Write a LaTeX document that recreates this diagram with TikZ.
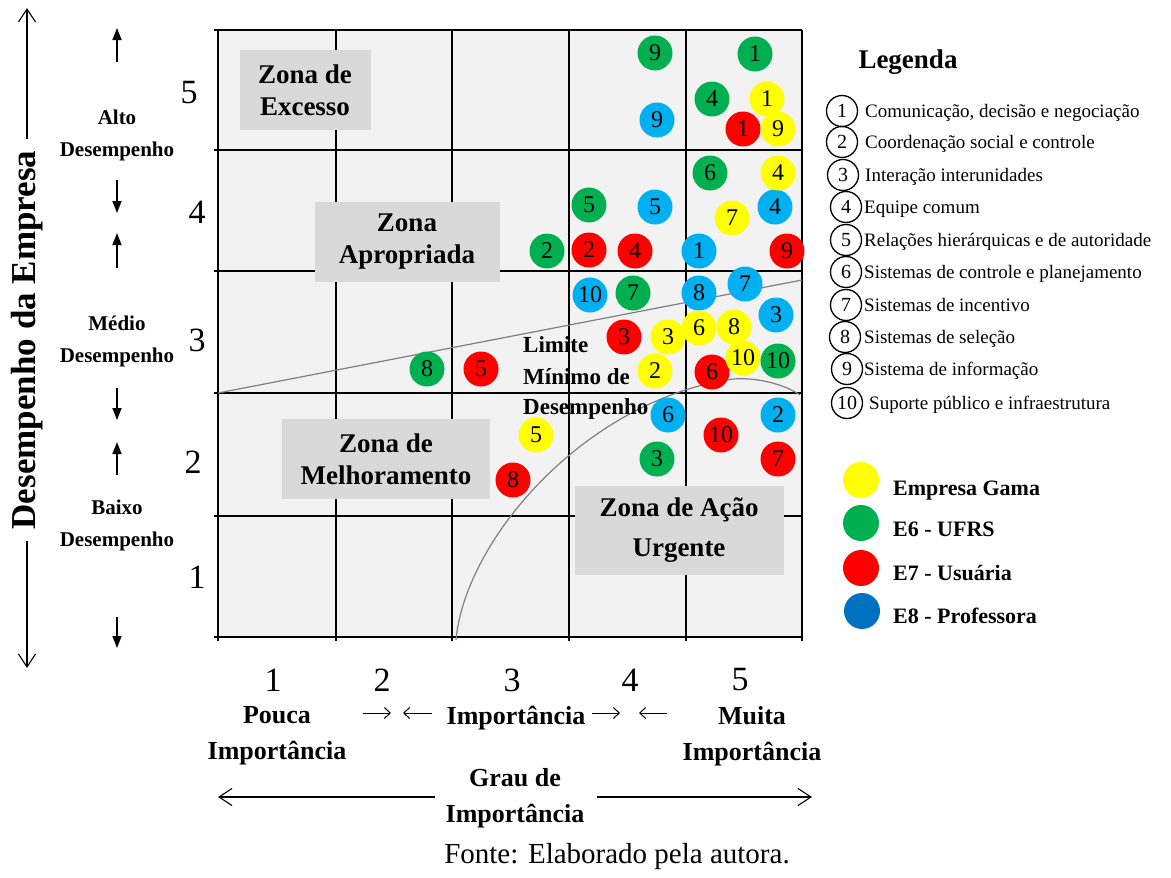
\documentclass[tikz,border=0pt]{standalone}
\usepackage{fontspec}
\setmainfont{Liberation Serif}
\usetikzlibrary{arrows.meta}
\definecolor{cY}{HTML}{FFFF00}
\definecolor{cG}{HTML}{00B050}
\definecolor{cR}{HTML}{FF0000}
\definecolor{cB}{HTML}{00B0F0}
\definecolor{cBL}{HTML}{0070C0}
\definecolor{gridbg}{HTML}{F2F2F2}
\definecolor{zgray}{HTML}{D9D9D9}
\definecolor{limgray}{HTML}{808080}
\begin{document}
\begin{tikzpicture}[x=1pt,y=-1pt,
  bub/.style={circle, inner sep=0pt, minimum size=35pt, font=\fontsize{24}{24}\selectfont},
  pY/.style={bub, fill=cY}, pG/.style={bub, fill=cG},
  pR/.style={bub, fill=cR}, pB/.style={bub, fill=cB},
  zone/.style={fill=zgray, inner sep=0pt, align=center, font=\bfseries\fontsize{27}{32}\selectfont},
  gridln/.style={line width=2pt, black},
  limln/.style={line width=1.2pt, limgray},
  axarrow/.style={line width=1.1pt, -{Straight Barb[length=13pt,width=17pt]}},
  smallarrow/.style={line width=1.6pt, -{Triangle[length=12pt,width=9pt]}},
  tinyarrow/.style={line width=1pt, -{Straight Barb[length=6pt,width=11pt]}},
  sidelbl/.style={align=center, font=\bfseries\fontsize{21}{32}\selectfont},
  bottomlbl/.style={align=center, font=\bfseries\fontsize{26}{36}\selectfont},
  axnum/.style={font=\fontsize{34}{34}\selectfont},
  legc/.style={circle, draw, line width=1.3pt, inner sep=0pt, minimum size=31pt, font=\fontsize{20}{20}\selectfont},
  legt/.style={anchor=base west, inner sep=0pt, font=\fontsize{19}{19}\selectfont},
  colc/.style={circle, inner sep=0pt, minimum size=36pt},
  colt/.style={anchor=base west, inner sep=0pt, font=\bfseries\fontsize{22}{22}\selectfont}
]
\useasboundingbox (0,0) rectangle (1171,878);

% grid background
\fill[gridbg] (218,30) rectangle (802,637);
\foreach \xx in {218,336,452,569,686,802} \draw[gridln] (\xx,30) -- (\xx,641);
\foreach \yy in {30,150,271,393,516,637} \draw[gridln] (214,\yy) -- (802,\yy);

% zone boxes
\node[zone, minimum width=131pt, minimum height=80pt] (zexc) at (305,90) {Zona de\\Excesso};
\node[zone, minimum width=185pt, minimum height=80pt] (zapr) at (407,242) {Zona\\Apropriada};
\node[zone, minimum width=208pt, minimum height=80pt] (zmel) at (386,459) {Zona de\\Melhoramento};
\node[zone, minimum width=209pt, minimum height=89pt, font=\bfseries\fontsize{27}{40}\selectfont] (zurg) at (679,530) {Zona de Ação\\Urgente};

% limit lines
\coordinate (la) at (218,393);
\coordinate (lb) at (802,280);
\draw[limln] (la) -- (lb);
\coordinate (ca) at (456,640);
\coordinate (cm) at (733,379);
\coordinate (cb) at (800,395);
\draw[limln] (ca) .. controls (465,540) and (585,400) .. (cm) .. controls (765,377) and (790,388) .. (cb);

% Limite text
\node[anchor=base west, inner sep=0pt, font=\bfseries\fontsize{23}{23}\selectfont] (lim1) at (523,352) {Limite};
\node[anchor=base west, inner sep=0pt, font=\bfseries\fontsize{23}{23}\selectfont] (lim2) at (523,384) {Mínimo de};
\node[anchor=base west, inner sep=0pt, font=\bfseries\fontsize{23}{23}\selectfont] (lim3) at (523,414) {Desempenho};

% red
\node[pR] (r1) at (743,129) {1};
\node[pR] (r2) at (589,250) {2};
\node[pR] (r4) at (635,251) {4};
\node[pR] (r9) at (787,251) {9};
\node[pR] (r3) at (624,337) {3};
\node[pR] (r5) at (481,369) {5};
\node[pR] (r6) at (712,372) {6};
\node[pR] (r10) at (721,435) {10};
\node[pR] (r7) at (778,459) {7};
\node[pR] (r8) at (513,480) {8};
% green
\node[pG] (g9) at (655,53) {9};
\node[pG] (g1) at (755,54) {1};
\node[pG] (g4) at (712,99) {4};
\node[pG] (g6) at (710,173) {6};
\node[pG] (g5) at (589,205) {5};
\node[pG] (g2) at (547,251) {2};
\node[pG] (g7) at (633,293) {7};
\node[pG] (g8) at (427,369) {8};
\node[pG] (g3) at (657,459) {3};
% blue
\node[pB] (b9) at (657,120) {9};
\node[pB] (b5) at (655,207) {5};
\node[pB] (b4) at (775,207) {4};
\node[pB] (b1) at (699,251) {1};
\node[pB] (b10) at (590,295) {10};
\node[pB] (b8) at (699,293) {8};
\node[pB] (b7) at (745,284) {7};
\node[pB] (b3) at (776,315) {3};
\node[pB] (b6) at (668,415) {6};
\node[pB] (b2) at (778,415) {2};
% yellow
\node[pY] (y1) at (767,99) {1};
\node[pY] (y9) at (778,129) {9};
\node[pY] (y4) at (778,173) {4};
\node[pY] (y7) at (732,218) {7};
\node[pY] (y3) at (668,337) {3};
\node[pY] (y6) at (699,328) {6};
\node[pY] (y8) at (734,327) {8};
\node[pY] (y10) at (743,358) {10};
\node[pY] (y2) at (655,371) {2};
\node[pY] (y5) at (536,435) {5};
\node[pG] (g10) at (778,361) {10};

% left axis
\node[rotate=90, inner sep=0pt, font=\bfseries\fontsize{35}{35}\selectfont] (ylab) at (27,340) {Desempenho da Empresa};
\coordinate (ytop) at (27,8);
\coordinate (ybot) at (27,668);
\draw[axarrow] (ylab.east) ++(0,-12) -- (ytop);
\draw[axarrow] (ylab.west) ++(0,12) -- (ybot);

% small arrows
\coordinate (s1a) at (117,62); \coordinate (s1b) at (117,28);
\coordinate (s2a) at (117,180); \coordinate (s2b) at (117,213);
\coordinate (s3a) at (117,268); \coordinate (s3b) at (117,233);
\coordinate (s4a) at (117,388); \coordinate (s4b) at (117,420);
\coordinate (s5a) at (117,475); \coordinate (s5b) at (117,442);
\coordinate (s6a) at (117,617); \coordinate (s6b) at (117,648);
\draw[smallarrow] (s1a) -- (s1b);
\draw[smallarrow] (s2a) -- (s2b);
\draw[smallarrow] (s3a) -- (s3b);
\draw[smallarrow] (s4a) -- (s4b);
\draw[smallarrow] (s5a) -- (s5b);
\draw[smallarrow] (s6a) -- (s6b);

\node[sidelbl] (alto) at (117,135) {Alto\\Desempenho};
\node[sidelbl] (medio) at (117,341) {Médio\\Desempenho};
\node[sidelbl] (baixo) at (117,525) {Baixo\\Desempenho};

\node[axnum] (yn5) at (189,93) {5};
\node[axnum] (yn4) at (197,212) {4};
\node[axnum] (yn3) at (197,340) {3};
\node[axnum] (yn2) at (193,462) {2};
\node[axnum] (yn1) at (197,577) {1};

% bottom axis
\node[axnum] (xn1) at (273,680) {1};
\node[axnum] (xn2) at (382,680) {2};
\node[axnum] (xn3) at (512,680) {3};
\node[axnum] (xn4) at (630,680) {4};
\node[axnum] (xn5) at (740,680) {5};

\node[bottomlbl] (pouca) at (277,736) {Pouca\\Importância};
\node[bottomlbl] (media) at (516,718) {Importância};
\node[bottomlbl] (muita) at (752,736) {Muita\\Importância};

\coordinate (t1a) at (363,713); \coordinate (t1b) at (391,713);
\coordinate (t2a) at (432,713); \coordinate (t2b) at (403,713);
\coordinate (t3a) at (592,713); \coordinate (t3b) at (620,713);
\coordinate (t4a) at (667,713); \coordinate (t4b) at (639,713);
\draw[tinyarrow] (t1a) -- (t1b);
\draw[tinyarrow] (t2a) -- (t2b);
\draw[tinyarrow] (t3a) -- (t3b);
\draw[tinyarrow] (t4a) -- (t4b);

\node[bottomlbl] (grau) at (515,798) {Grau de\\Importância};
\coordinate (gl) at (218,797);
\coordinate (gr) at (812,797);
\coordinate (gla) at (435,797);
\coordinate (gra) at (597,797);
\draw[axarrow] (gla) -- (gl);
\draw[axarrow] (gra) -- (gr);

\node[font=\fontsize{29}{29}\selectfont] (fonte) at (617,857) {Fonte: Elaborado pela autora.};

% legend
\node[font=\bfseries\fontsize{27}{27}\selectfont] (legtitle) at (908,62) {Legenda};
\node[legc] (l1) at (842,111) {1};
\node[legc] (l2) at (842,142) {2};
\node[legc] (l3) at (843,175) {3};
\node[legc] (l4) at (846,207) {4};
\node[legc] (l5) at (846,240) {5};
\node[legc] (l6) at (846,272) {6};
\node[legc] (l7) at (846,305) {7};
\node[legc] (l8) at (845,337) {8};
\node[legc] (l9) at (847,369) {9};
\node[legc] (l10) at (847,403) {10};
\node[legt] (lt1) at (865,117) {Comunicação, decisão e negociação};
\node[legt] (lt2) at (865,148) {Coordenação social e controle};
\node[legt] (lt3) at (865,181) {Interação interunidades};
\node[legt] (lt4) at (864,213) {Equipe comum};
\node[legt] (lt5) at (864,246) {Relações hierárquicas e de autoridade};
\node[legt] (lt6) at (864,278) {Sistemas de controle e planejamento};
\node[legt] (lt7) at (864,311) {Sistemas de incentivo};
\node[legt] (lt8) at (864,343) {Sistemas de seleção};
\node[legt] (lt9) at (864,375) {Sistema de informação};
\node[legt] (lt10) at (869,409) {Suporte público e infraestrutura};

\node[colc, fill=cY] (cy) at (861,480) {};
\node[colc, fill=cG] (cg) at (861,523) {};
\node[colc, fill=cR] (cr) at (861,568) {};
\node[colc, fill=cBL] (cbl) at (862,611) {};
\node[colt] (cty) at (893,495) {Empresa Gama};
\node[colt] (ctg) at (893,536) {E6 - UFRS};
\node[colt] (ctr) at (893,580) {E7 - Usuária};
\node[colt] (ctb) at (893,623) {E8 - Professora};
\end{tikzpicture}
\end{document}
